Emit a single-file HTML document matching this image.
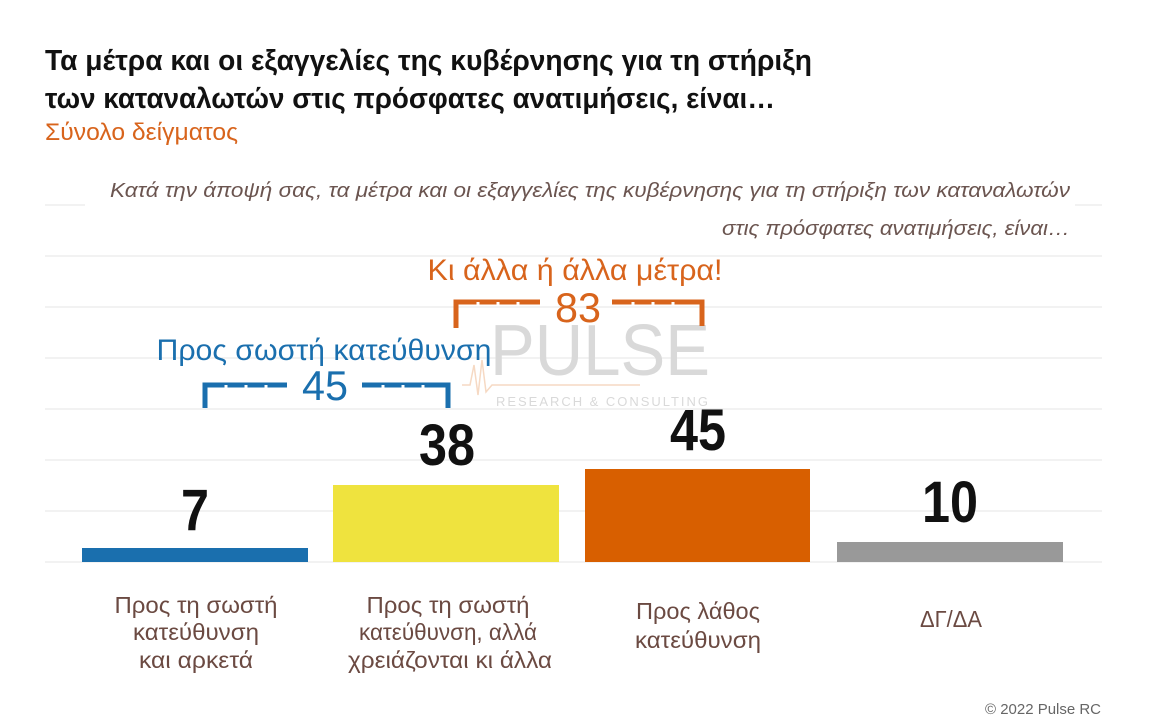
<!DOCTYPE html>
<html><head><meta charset="utf-8"><style>
html,body{margin:0;padding:0;background:#fff;}
svg{display:block;font-family:"Liberation Sans Narrow","Liberation Sans",sans-serif;}
</style></head><body>
<svg width="1167" height="723" viewBox="0 0 1167 723" xmlns="http://www.w3.org/2000/svg">
<g stroke="#e6e6e6" stroke-width="1">
<line x1="45" y1="205" x2="85" y2="205"/>
<line x1="45" y1="256" x2="1102" y2="256"/>
<line x1="45" y1="307" x2="1102" y2="307"/>
<line x1="45" y1="358" x2="1102" y2="358"/>
<line x1="45" y1="409" x2="1102" y2="409"/>
<line x1="45" y1="460" x2="1102" y2="460"/>
<line x1="45" y1="511" x2="1102" y2="511"/>
<line x1="45" y1="562" x2="1102" y2="562"/>
<line x1="1075" y1="205" x2="1102" y2="205"/>
</g>
<text x="45" y="70" font-size="29" font-weight="bold" fill="#111" textLength="767" lengthAdjust="spacingAndGlyphs">Τα μέτρα και οι εξαγγελίες της κυβέρνησης για τη στήριξη</text>
<text x="45" y="108" font-size="29" font-weight="bold" fill="#111" textLength="730" lengthAdjust="spacingAndGlyphs">των καταναλωτών στις πρόσφατες ανατιμήσεις, είναι…</text>
<text x="45" y="140" font-size="24" fill="#d8641c" textLength="193" lengthAdjust="spacingAndGlyphs">Σύνολο δείγματος</text>
<text x="1070" y="197" font-size="20" font-style="italic" fill="#6b5550" text-anchor="end" textLength="960" lengthAdjust="spacingAndGlyphs">Κατά την άποψή σας, τα μέτρα και οι εξαγγελίες της κυβέρνησης για τη στήριξη των καταναλωτών</text>
<text x="1070" y="235" font-size="20" font-style="italic" fill="#6b5550" text-anchor="end" textLength="348" lengthAdjust="spacingAndGlyphs">στις πρόσφατες ανατιμήσεις, είναι…</text>
<!-- watermark -->
<text x="490" y="375" font-size="72" fill="#d9d9d9" textLength="220" lengthAdjust="spacingAndGlyphs">PULSE</text>
<text x="496" y="406" font-size="13" fill="#d9d9d9" textLength="214" lengthAdjust="spacingAndGlyphs" letter-spacing="2">RESEARCH &amp; CONSULTING</text>
<polyline points="462,385 470,385 474,365 478,395 482,360 486,392 492,385 640,385" fill="none" stroke="#f6d9c3" stroke-width="1.5"/>
<!-- orange bracket -->
<g stroke="#d8641c" stroke-width="5" fill="none">
<path d="M456,328 V302 H540"/>
<path d="M612,302 H702 V326"/>
</g>
<g stroke="#fff" stroke-width="3">
<line x1="478" y1="302" x2="478" y2="305"/><line x1="498" y1="302" x2="498" y2="305"/><line x1="518" y1="302" x2="518" y2="305"/>
<line x1="633" y1="302" x2="633" y2="305"/><line x1="653" y1="302" x2="653" y2="305"/><line x1="673" y1="302" x2="673" y2="305"/>
</g>
<text x="575" y="280" font-size="30" fill="#d8641c" text-anchor="middle" textLength="295" lengthAdjust="spacingAndGlyphs">Κι άλλα ή άλλα μέτρα!</text>
<text x="578" y="322" font-size="42" fill="#d8641c" text-anchor="middle" textLength="46" lengthAdjust="spacingAndGlyphs">83</text>
<!-- blue bracket -->
<g stroke="#1a6fae" stroke-width="5" fill="none">
<path d="M205,408 V385 H287"/>
<path d="M362,385 H448 V408"/>
</g>
<g stroke="#fff" stroke-width="3">
<line x1="226" y1="385" x2="226" y2="388"/><line x1="246" y1="385" x2="246" y2="388"/><line x1="266" y1="385" x2="266" y2="388"/>
<line x1="383" y1="385" x2="383" y2="388"/><line x1="403" y1="385" x2="403" y2="388"/><line x1="423" y1="385" x2="423" y2="388"/>
</g>
<text x="324" y="360" font-size="30" fill="#1a6fae" text-anchor="middle" textLength="335" lengthAdjust="spacingAndGlyphs">Προς σωστή κατεύθυνση</text>
<text x="325" y="400" font-size="42" fill="#1a6fae" text-anchor="middle" textLength="46" lengthAdjust="spacingAndGlyphs">45</text>
<!-- bars -->
<rect x="82" y="548" width="226" height="14" fill="#1a6fae"/>
<rect x="333" y="485" width="226" height="77" fill="#efe33e"/>
<rect x="585" y="469" width="225" height="93" fill="#d85f00"/>
<rect x="837" y="542" width="226" height="20" fill="#999"/>
<g font-size="58" font-weight="bold" fill="#111" text-anchor="middle">
<text x="195" y="530" textLength="28" lengthAdjust="spacingAndGlyphs">7</text>
<text x="447" y="465" textLength="56" lengthAdjust="spacingAndGlyphs">38</text>
<text x="698" y="450" textLength="56" lengthAdjust="spacingAndGlyphs">45</text>
<text x="950" y="522" textLength="56" lengthAdjust="spacingAndGlyphs">10</text>
</g>
<g font-size="23" fill="#6b4a42" text-anchor="middle" lengthAdjust="spacingAndGlyphs">
<text x="196" y="613" textLength="163" lengthAdjust="spacingAndGlyphs">Προς τη σωστή</text>
<text x="196" y="640" textLength="126" lengthAdjust="spacingAndGlyphs">κατεύθυνση</text>
<text x="196" y="668" textLength="114" lengthAdjust="spacingAndGlyphs">και αρκετά</text>
<text x="448" y="613" textLength="163" lengthAdjust="spacingAndGlyphs">Προς τη σωστή</text>
<text x="448" y="640" textLength="178" lengthAdjust="spacingAndGlyphs">κατεύθυνση, αλλά</text>
<text x="450" y="668" textLength="204" lengthAdjust="spacingAndGlyphs">χρειάζονται κι άλλα</text>
<text x="698" y="619" textLength="124" lengthAdjust="spacingAndGlyphs">Προς λάθος</text>
<text x="698" y="648" textLength="126" lengthAdjust="spacingAndGlyphs">κατεύθυνση</text>
<text x="951" y="627" textLength="62" lengthAdjust="spacingAndGlyphs">ΔΓ/ΔΑ</text>
</g>
<text x="1101" y="714" font-size="15" fill="#666" text-anchor="end" textLength="116" lengthAdjust="spacingAndGlyphs">© 2022 Pulse RC</text>
</svg>
</body></html>
